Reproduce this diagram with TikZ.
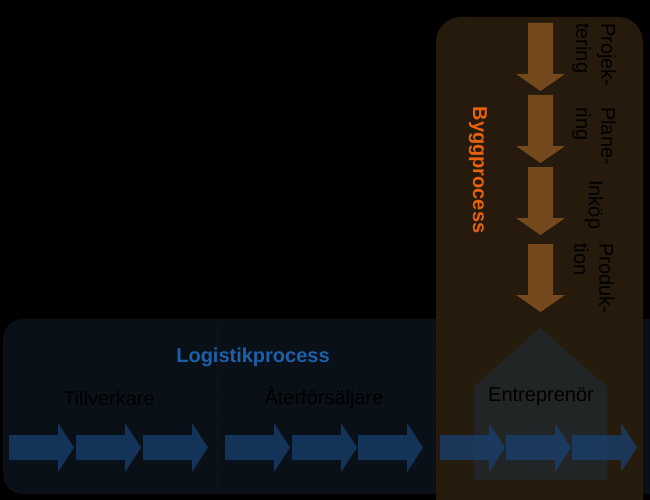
\documentclass[tikz,border=0pt]{standalone}
\usepackage{fontspec}
\setmainfont{Liberation Sans}
\usetikzlibrary{positioning}

\definecolor{panelblue}{RGB}{9,16,24}
\definecolor{panelbrown}{RGB}{44,31,13}
\definecolor{arrowblue}{RGB}{24,64,112}
\definecolor{arrowbrown}{RGB}{116,73,29}
\definecolor{logiblue}{RGB}{28,96,170}
\definecolor{byggorange}{RGB}{232,98,14}

\begin{document}
\begin{tikzpicture}[x=1pt,y=-1pt,
  logiarrow/.style={fill=arrowblue,fill opacity=0.75},
  byggarrow/.style={fill=arrowbrown},
  partlabel/.style={inner sep=0pt,text=black,font=\fontsize{20}{24}\selectfont},
  stagelabel/.style={rotate=-90,anchor=west,align=left,inner sep=0pt,
    text=black,font=\fontsize{20}{25}\selectfont}]

\useasboundingbox (0,0) rectangle (650,500);
\fill[black] (0,0) rectangle (650,500);
\clip (0,0) rectangle (650,500);

% panels
\fill[panelblue,rounded corners=20] (3,319) rectangle (680,494);
\fill[panelbrown,fill opacity=0.85,rounded corners=25] (436,17) rectangle (643,540);
\draw[dotted,line width=1,black!75!gray] (217,325) -- (217,492);
\draw[dotted,line width=1,black!75!gray] (433,325) -- (433,492);

% house
\fill[arrowblue,fill opacity=0.25] (474,480) -- (474,387) -- (540,328) -- (607,387) -- (607,480) -- cycle;

% logistics chain
\fill[logiarrow] (9,435) -- (58,435) -- (58,423) -- (74,447.5) -- (58,472) -- (58,460) -- (9,460) -- cycle;
\fill[logiarrow] (76,435) -- (125,435) -- (125,423) -- (141,447.5) -- (125,472) -- (125,460) -- (76,460) -- cycle;
\fill[logiarrow] (143,435) -- (192,435) -- (192,423) -- (208,447.5) -- (192,472) -- (192,460) -- (143,460) -- cycle;
\fill[logiarrow] (225,435) -- (274,435) -- (274,423) -- (290,447.5) -- (274,472) -- (274,460) -- (225,460) -- cycle;
\fill[logiarrow] (292,435) -- (341,435) -- (341,423) -- (357,447.5) -- (341,472) -- (341,460) -- (292,460) -- cycle;
\fill[logiarrow] (358,435) -- (407,435) -- (407,423) -- (423,447.5) -- (407,472) -- (407,460) -- (358,460) -- cycle;
\fill[logiarrow] (440,435) -- (489,435) -- (489,423) -- (505,447.5) -- (489,472) -- (489,460) -- (440,460) -- cycle;
\fill[logiarrow] (506,435) -- (555,435) -- (555,423) -- (571,447.5) -- (555,472) -- (555,460) -- (506,460) -- cycle;
\fill[logiarrow] (572,435) -- (621,435) -- (621,423) -- (637,447.5) -- (621,472) -- (621,460) -- (572,460) -- cycle;

% building chain
\fill[byggarrow] (528,23) -- (553,23) -- (553,74) -- (565,74) -- (540.5,91) -- (516,74) -- (528,74) -- cycle;
\fill[byggarrow] (528,95) -- (553,95) -- (553,146) -- (565,146) -- (540.5,163) -- (516,146) -- (528,146) -- cycle;
\fill[byggarrow] (528,167) -- (553,167) -- (553,218) -- (565,218) -- (540.5,235) -- (516,218) -- (528,218) -- cycle;
\fill[byggarrow] (528,244) -- (553,244) -- (553,295) -- (565,295) -- (540.5,312) -- (516,295) -- (528,295) -- cycle;

% labels
\node[text=logiblue,font=\bfseries\fontsize{20}{24}\selectfont] (logi) at (253,357) {Logistikprocess};
\node[partlabel] (tillv) at (109,398) {Tillverkare};
\node[partlabel] (aterf) at (324,398) {Återförsäljare};
\node[partlabel] (entr) at (541,397) {Entreprenör};
\node[rotate=-90,text=byggorange,font=\bfseries\fontsize{20}{24}\selectfont] (bygg) at (478,170) {Byggprocess};
\node[stagelabel] (proj) at (594,23) {Projek-\\tering};
\node[stagelabel] (plan) at (594,107) {Plane-\\ring};
\node[stagelabel] (inkop) at (594,180) {Inköp};
\node[stagelabel] (prod) at (594,243) {Produk-\\tion};
\end{tikzpicture}
\end{document}
